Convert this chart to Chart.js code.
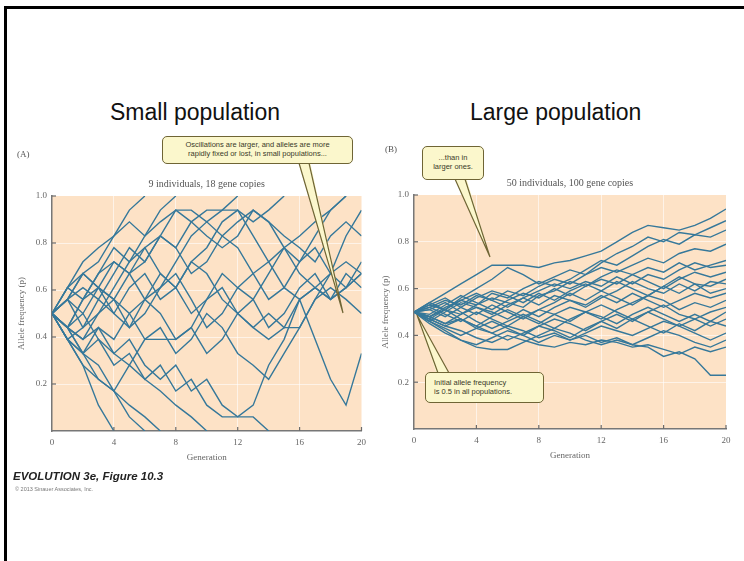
<!DOCTYPE html>
<html>
<head>
<meta charset="utf-8">
<script src="https://cdn.jsdelivr.net/npm/chart.js@4.4.1/dist/chart.umd.min.js"></script>
<style>
  html, body { margin: 0; padding: 0; background: #fff; }
  body { width: 744px; height: 561px; position: relative; overflow: hidden; font-family: "Liberation Sans", Arial, sans-serif; }
  #frame { position: absolute; left: 4px; top: 6px; right: -10px; bottom: -10px; border-left: 3px solid #000; border-top: 3px solid #000; }
  .head { position: absolute; top: 99px; font-size: 23px; color: #111; white-space: nowrap; }
  .panel { position: absolute; top: 130px; width: 372px; height: 340px; }
  .tag { position: absolute; font-family: "Liberation Serif", serif; font-size: 9px; color: #555; }
  .callout { position: absolute; box-sizing: border-box; background: #fbf7cc; border: 1.5px solid #6f6535; border-radius: 5px;
             font-size: 7.5px; line-height: 9px; color: #3a3a2a; text-align: center; padding-top: 3px; white-space: nowrap; }
  #overlay { position: absolute; left: 0; top: 0; }
  #foot1 { position: absolute; left: 13px; top: 470px; font-size: 11.5px; font-weight: bold; font-style: italic; color: #222; }
  #foot2 { position: absolute; left: 15px; top: 486px; font-size: 5.5px; color: #777; }
</style>
</head>
<body>
<div id="frame"></div>
<div class="head" style="left:110px">Small population</div>
<div class="head" style="left:470px">Large population</div>

<canvas id="smallChart" class="panel" style="left:0px" width="372" height="340"></canvas>
<canvas id="largeChart" class="panel" style="left:372px" width="372" height="340"></canvas>

<div class="tag" style="left:17px;top:149px">(A)</div>
<div class="tag" style="left:385px;top:144px">(B)</div>

<svg id="overlay" width="744" height="561">
  <g fill="#fbf7cc" stroke="none">
    <polygon points="298,161 310,161 343,313"/>
    <polygon points="454,177 466,177 490,257"/>
    <polygon points="437,375 450,375 417,315"/>
  </g>
  <g fill="none" stroke="#6f6535" stroke-width="1.2">
    <polyline points="299,163 343,313 309,163"/>
    <polyline points="455,179 490,257 465,179"/>
    <polyline points="438,373 417,315 449,373"/>
  </g>
</svg>

<div class="callout" style="left:162px;top:136px;width:191px;height:28px">Oscillations are larger, and alleles are more<br>rapidly fixed or lost, in small populations...</div>
<div class="callout" style="left:422px;top:146px;width:62px;height:34px;padding-top:6px">...than in<br>larger ones.</div>
<div class="callout" style="left:425px;top:372px;width:119px;height:31px;padding-top:5px;text-align:left;padding-left:8px">Initial allele frequency<br>is 0.5 in all populations.</div>

<div id="foot1">EVOLUTION 3e, Figure 10.3</div>
<div id="foot2">© 2013 Sinauer Associates, Inc.</div>

<script>
// generations on the x axis and the tick labels
const generations = [0,1,2,3,4,5,6,7,8,9,10,11,12,13,14,15,16,17,18,19,20];
const xTickValues = [0, 4, 8, 12, 16, 20];
const yTickValues = [0.2, 0.4, 0.6, 0.8, 1.0];

// (A) 9 individuals, 18 gene copies - allele frequency per generation (stops once fixed or lost)
const smallA1 = [0.5,0.61,0.72,0.78,0.83,0.94,1];
const smallA2 = [0.5,0.56,0.67,0.72,0.83,0.89,0.83,0.94,1];
const smallA3 = [0.5,0.44,0.56,0.67,0.78,0.72,0.83,0.89,0.94,0.94,0.89,0.94,1];
const smallA4 = [0.5,0.61,0.56,0.67,0.72,0.67,0.78,0.83,0.78,0.89,0.94,0.94,0.94,0.89,0.94,1];
const smallA5 = [0.5,0.56,0.61,0.56,0.67,0.78,0.72,0.83,0.94,0.89,0.83,0.78,0.83,0.94,0.89,0.83,0.78,0.72,0.83,0.89,0.83];
const smallA6 = [0.5,0.61,0.67,0.61,0.56,0.67,0.72,0.83,0.78,0.67,0.72,0.83,0.89,0.94,0.89,0.78,0.72,0.83,0.94,1];
const smallA7 = [0.5,0.44,0.56,0.61,0.72,0.67,0.56,0.61,0.72,0.83,0.89,0.83,0.78,0.67,0.56,0.61,0.72,0.78,0.67,0.61,0.72];
const smallA8 = [0.5,0.56,0.44,0.5,0.61,0.72,0.78,0.67,0.61,0.72,0.78,0.89,0.94,0.83,0.72,0.78,0.67,0.61,0.56,0.61,0.67];
const smallA9 = [0.5,0.39,0.44,0.56,0.5,0.61,0.67,0.56,0.61,0.5,0.56,0.67,0.61,0.56,0.67,0.78,0.83,0.89,0.94,1];
const smallA10 = [0.5,0.56,0.5,0.61,0.56,0.44,0.5,0.61,0.67,0.56,0.44,0.5,0.61,0.67,0.72,0.61,0.56,0.61,0.56,0.67,0.61];
const smallA11 = [0.5,0.44,0.39,0.5,0.56,0.5,0.39,0.39,0.39,0.44,0.56,0.61,0.5,0.44,0.5,0.44,0.56,0.61,0.67,0.72,0.67];
const smallA12 = [0.5,0.39,0.33,0.44,0.39,0.5,0.56,0.67,0.61,0.72,0.67,0.56,0.5,0.44,0.39,0.44,0.44,0.56,0.61,0.56,0.5];
const smallA13 = [0.5,0.44,0.5,0.39,0.33,0.28,0.39,0.44,0.33,0.39,0.5,0.44,0.33,0.28,0.22,0.33,0.44,0.56,0.67,0.83,0.94];
const smallA14 = [0.5,0.39,0.28,0.22,0.17,0.28,0.22,0.17,0.11,0.06,0];
const smallA15 = [0.5,0.39,0.28,0.11,0];
const smallA16 = [0.5,0.44,0.33,0.28,0.17,0.06,0];
const smallA17 = [0.5,0.39,0.33,0.22,0.17,0.11,0.06,0];
const smallA18 = [0.5,0.44,0.39,0.44,0.33,0.39,0.28,0.22,0.28,0.17,0.22,0.11,0.06,0.06,0];
const smallA19 = [0.5,0.44,0.33,0.39,0.28,0.33,0.22,0.28,0.17,0.22,0.11,0.06,0.06,0.11,0.28,0.39,0.56,0.39,0.22,0.11,0.33];
const smallA20 = [0.5,0.56,0.67,0.61,0.5,0.44,0.56,0.5,0.39,0.44,0.33,0.39,0.5,0.56,0.44,0.5,0.61,0.67,0.56,0.61,0.67];

// (B) 50 individuals, 100 gene copies
const largeB1 = [0.5,0.54,0.58,0.62,0.66,0.70,0.70,0.70,0.69,0.71,0.72,0.74,0.76,0.80,0.84,0.87,0.86,0.85,0.87,0.90,0.94];
const largeB2 = [0.5,0.53,0.51,0.56,0.60,0.64,0.69,0.66,0.62,0.65,0.68,0.66,0.71,0.75,0.78,0.82,0.80,0.84,0.83,0.86,0.89];
const largeB3 = [0.5,0.48,0.52,0.55,0.53,0.58,0.56,0.60,0.63,0.61,0.64,0.68,0.72,0.70,0.74,0.78,0.81,0.79,0.83,0.82,0.85];
const largeB4 = [0.5,0.52,0.55,0.53,0.57,0.55,0.59,0.57,0.61,0.64,0.62,0.66,0.69,0.67,0.70,0.73,0.71,0.75,0.77,0.76,0.79];
const largeB5 = [0.5,0.47,0.51,0.49,0.53,0.56,0.54,0.52,0.57,0.59,0.63,0.61,0.65,0.68,0.66,0.69,0.67,0.71,0.68,0.70,0.72];
const largeB6 = [0.5,0.54,0.51,0.55,0.58,0.55,0.52,0.56,0.59,0.62,0.60,0.63,0.61,0.65,0.62,0.66,0.64,0.68,0.71,0.69,0.70];
const largeB7 = [0.5,0.49,0.53,0.57,0.54,0.51,0.55,0.58,0.56,0.60,0.57,0.61,0.64,0.62,0.66,0.63,0.60,0.64,0.67,0.65,0.67];
const largeB8 = [0.5,0.51,0.48,0.52,0.56,0.59,0.57,0.54,0.58,0.55,0.59,0.62,0.59,0.63,0.60,0.57,0.61,0.65,0.62,0.61,0.64];
const largeB9 = [0.5,0.46,0.50,0.54,0.52,0.49,0.53,0.56,0.53,0.57,0.55,0.52,0.56,0.59,0.63,0.60,0.58,0.62,0.59,0.63,0.62];
const largeB10 = [0.5,0.53,0.56,0.52,0.49,0.53,0.50,0.47,0.51,0.54,0.58,0.55,0.59,0.56,0.53,0.57,0.61,0.58,0.62,0.58,0.60];
const largeB11 = [0.5,0.48,0.45,0.49,0.52,0.50,0.47,0.51,0.48,0.52,0.55,0.53,0.57,0.54,0.58,0.55,0.52,0.55,0.58,0.56,0.58];
const largeB12 = [0.5,0.52,0.49,0.46,0.50,0.47,0.44,0.48,0.51,0.49,0.52,0.50,0.47,0.51,0.54,0.57,0.55,0.51,0.54,0.52,0.55];
const largeB13 = [0.5,0.47,0.44,0.47,0.44,0.48,0.51,0.48,0.45,0.49,0.46,0.50,0.53,0.50,0.47,0.50,0.53,0.49,0.47,0.50,0.52];
const largeB14 = [0.5,0.51,0.54,0.50,0.46,0.43,0.46,0.49,0.46,0.43,0.47,0.50,0.48,0.45,0.49,0.52,0.49,0.46,0.49,0.46,0.50];
const largeB15 = [0.5,0.46,0.43,0.40,0.43,0.46,0.43,0.40,0.44,0.47,0.45,0.42,0.46,0.49,0.46,0.50,0.47,0.44,0.47,0.44,0.47];
const largeB16 = [0.5,0.48,0.51,0.47,0.44,0.41,0.38,0.41,0.44,0.42,0.39,0.43,0.46,0.43,0.47,0.44,0.41,0.45,0.42,0.46,0.44];
const largeB17 = [0.5,0.45,0.41,0.38,0.36,0.39,0.42,0.40,0.37,0.40,0.38,0.41,0.44,0.42,0.40,0.43,0.46,0.44,0.41,0.38,0.41];
const largeB18 = [0.5,0.46,0.42,0.38,0.35,0.34,0.34,0.37,0.40,0.43,0.41,0.38,0.36,0.38,0.36,0.39,0.42,0.40,0.37,0.35,0.38];
const largeB19 = [0.5,0.47,0.44,0.42,0.39,0.37,0.40,0.38,0.36,0.35,0.37,0.36,0.38,0.37,0.35,0.36,0.34,0.32,0.35,0.33,0.35];
const largeB20 = [0.5,0.48,0.45,0.47,0.43,0.41,0.44,0.42,0.39,0.41,0.38,0.40,0.37,0.39,0.36,0.35,0.31,0.33,0.30,0.23,0.23];

const smallSeries = [smallA1, smallA2, smallA3, smallA4, smallA5, smallA6, smallA7, smallA8, smallA9, smallA10,
                     smallA11, smallA12, smallA13, smallA14, smallA15, smallA16, smallA17, smallA18, smallA19, smallA20];
const largeSeries = [largeB1, largeB2, largeB3, largeB4, largeB5, largeB6, largeB7, largeB8, largeB9, largeB10,
                     largeB11, largeB12, largeB13, largeB14, largeB15, largeB16, largeB17, largeB18, largeB19, largeB20];

const lineColor = '#36789a';
const serif = '"Liberation Serif", "DejaVu Serif", serif';

// peach plot area + small inward tick marks
const panelDecor = {
  id: 'panelDecor',
  beforeDraw(chart) {
    const { ctx, chartArea: a } = chart;
    ctx.save();
    ctx.fillStyle = '#fde2c6';
    ctx.fillRect(a.left, a.top, a.right - a.left, a.bottom - a.top);
    ctx.restore();
  },
  afterDraw(chart) {
    const { ctx, chartArea: a, scales } = chart;
    ctx.save();
    ctx.strokeStyle = '#6b6b6b';
    ctx.lineWidth = 1.2;
    scales.x.ticks.forEach(t => {
      if (t.value === 0) return;
      const px = scales.x.getPixelForValue(t.value);
      ctx.beginPath(); ctx.moveTo(px, a.bottom); ctx.lineTo(px, a.bottom - 4); ctx.stroke();
    });
    scales.y.ticks.forEach(t => {
      const py = scales.y.getPixelForValue(t.value);
      ctx.beginPath(); ctx.moveTo(a.left, py); ctx.lineTo(a.left + 4, py); ctx.stroke();
    });
    ctx.restore();
  }
};

function makeChart(id, series, title, pad, yWidth) {
  return new Chart(document.getElementById(id), {
    type: 'line',
    data: {
      labels: generations,
      datasets: series.map(s => ({
        data: s, borderColor: lineColor, borderWidth: 1.4,
        pointRadius: 0, tension: 0, fill: false
      }))
    },
    options: {
      responsive: false,
      animation: false,
      events: [],
      layout: { padding: pad },
      plugins: {
        legend: { display: false },
        tooltip: { enabled: false },
        title: {
          display: true, text: title, fullSize: false, color: '#555',
          font: { family: serif, size: 10, weight: 'normal' }, padding: { top: 0, bottom: 6 }
        }
      },
      scales: {
        x: {
          type: 'linear', min: 0, max: 20,
          afterBuildTicks: s => { s.ticks = xTickValues.map(v => ({ value: v })); },
          afterFit: s => { s.height = 36; },
          grid: {
            drawTicks: false,
            color: c => (c.tick && (c.tick.value === 0 || c.tick.value === 20)) ? 'rgba(0,0,0,0)' : 'rgba(255,255,255,0.6)'
          },
          border: { color: '#777', width: 1.5 },
          ticks: { padding: 6, color: '#666', maxRotation: 0, font: { family: serif, size: 9 } },
          title: { display: true, text: 'Generation', color: '#666', font: { family: serif, size: 9 }, padding: { top: 4, bottom: 4 } }
        },
        y: {
          min: 0, max: 1,
          afterBuildTicks: s => { s.ticks = yTickValues.map(v => ({ value: v })); },
          afterFit: s => { s.width = yWidth; },
          grid: {
            drawTicks: false,
            color: c => (c.tick && c.tick.value >= 1) ? 'rgba(0,0,0,0)' : 'rgba(255,255,255,0.6)'
          },
          border: { color: '#777', width: 1.5 },
          ticks: { padding: 5, color: '#666', font: { family: serif, size: 9 }, callback: v => Number(v).toFixed(1) },
          title: { display: true, text: 'Allele frequency (p)', color: '#666', font: { family: serif, size: 9 }, padding: { top: 4, bottom: 2 } }
        }
      }
    },
    plugins: [panelDecor]
  });
}

makeChart('smallChart', smallSeries, '9 individuals, 18 gene copies', { left: 12, right: 9, top: 48, bottom: 3 }, 40);
makeChart('largeChart', largeSeries, '50 individuals, 100 gene copies', { left: 4, right: 18, top: 47, bottom: 5 }, 38);
</script>
</body>
</html>
